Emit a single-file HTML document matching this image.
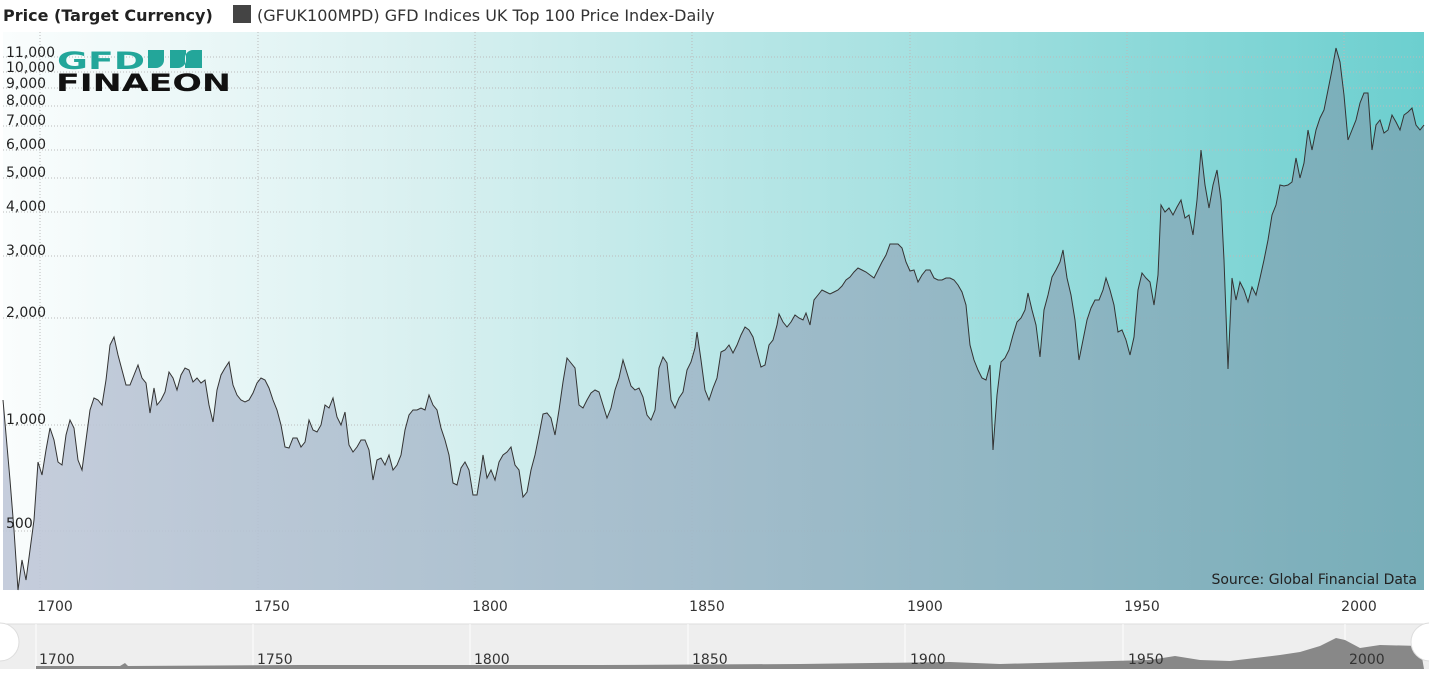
<!DOCTYPE html>
<html><head><style>
body{margin:0;background:#fff;width:1429px;height:669px;overflow:hidden;font-family:"Liberation Sans","DejaVu Sans",sans-serif}
</style></head><body>
<svg width="1429" height="669" xmlns="http://www.w3.org/2000/svg" font-family="'DejaVu Sans','Liberation Sans',sans-serif">
<defs>
<linearGradient id="bg" x1="0" x2="1" y1="0" y2="0">
<stop offset="0" stop-color="#fafdfd"/><stop offset="0.3" stop-color="#d8f0f0"/><stop offset="0.7" stop-color="#9ddede"/><stop offset="1" stop-color="#6ccfcf"/></linearGradient>
<linearGradient id="fl" x1="0" x2="1" y1="0" y2="0">
<stop offset="0" stop-color="#c0c8d8"/><stop offset="0.5" stop-color="#a0b8c8"/><stop offset="1" stop-color="#78aab6"/></linearGradient>
</defs>
<text x="3" y="21" font-size="16" font-weight="bold" fill="#222">Price (Target Currency)</text>
<rect x="233" y="5" width="18" height="18" fill="#444"/>
<text x="257" y="21" font-size="16" fill="#333">(GFUK100MPD) GFD Indices UK Top 100 Price Index-Daily</text>
<rect x="3" y="32" width="1421" height="558" fill="url(#bg)"/>
<g stroke="#bbb" stroke-dasharray="1,2" stroke-width="1">
<line x1="3" x2="1424" y1="57" y2="57"/><line x1="3" x2="1424" y1="72" y2="72"/><line x1="3" x2="1424" y1="88" y2="88"/><line x1="3" x2="1424" y1="106" y2="106"/><line x1="3" x2="1424" y1="126" y2="126"/><line x1="3" x2="1424" y1="150" y2="150"/><line x1="3" x2="1424" y1="178" y2="178"/><line x1="3" x2="1424" y1="212" y2="212"/><line x1="3" x2="1424" y1="256" y2="256"/><line x1="3" x2="1424" y1="318" y2="318"/><line x1="3" x2="1424" y1="425" y2="425"/><line x1="3" x2="1424" y1="531" y2="531"/>
<line x1="40" x2="40" y1="32" y2="590"/><line x1="258" x2="258" y1="32" y2="590"/><line x1="475" x2="475" y1="32" y2="590"/><line x1="692" x2="692" y1="32" y2="590"/><line x1="910" x2="910" y1="32" y2="590"/><line x1="1127" x2="1127" y1="32" y2="590"/><line x1="1344" x2="1344" y1="32" y2="590"/>
</g>
<polyline id="pl" fill="url(#fl)" fill-opacity="0.9" stroke="none" points="3,590 3,400 10,480 14,530 18,590 22,560 26,580 30,550 34,520 38,462 42,475 46,450 50,428 54,440 58,462 62,465 66,435 70,420 74,428 78,460 82,470 86,440 90,410 94,398 98,400 102,405 106,380 110,345 114,337 118,355 122,370 126,385 130,385 134,375 138,365 142,378 146,383 150,413 154,388 157,405 161,400 165,392 169,372 173,378 177,390 181,375 185,368 189,370 193,382 197,378 201,383 205,380 209,405 213,422 217,390 221,375 225,368 229,362 233,385 237,395 241,400 245,402 249,400 253,393 257,383 261,378 265,380 269,388 273,400 277,410 281,425 285,447 289,448 293,438 297,438 301,447 305,442 309,420 313,430 317,432 321,425 325,405 329,408 333,398 337,417 341,425 345,412 349,445 353,452 357,447 361,440 365,440 369,450 373,480 377,460 381,458 385,465 389,455 393,470 397,465 401,455 405,430 409,415 413,410 417,410 421,408 425,410 429,395 433,405 437,410 441,428 445,440 449,455 453,483 457,485 461,468 465,462 469,470 473,495 477,495 481,470 483,455 487,478 491,470 495,480 499,462 503,455 507,452 511,447 515,465 519,470 523,497 527,492 531,470 535,455 539,435 543,414 547,413 551,418 555,435 559,410 563,382 567,358 571,363 575,368 579,405 583,408 587,400 591,393 595,390 599,392 603,405 607,418 611,408 615,390 619,378 623,360 627,373 631,386 635,390 639,388 643,397 647,415 651,420 655,410 659,368 663,357 667,363 671,400 675,408 679,398 683,392 687,370 691,362 695,348 697,332 701,360 705,390 709,400 713,388 717,378 721,352 725,350 729,345 733,353 737,345 741,335 745,327 749,330 753,337 757,352 761,367 765,365 769,345 773,340 777,325 779,314 783,322 787,327 791,322 795,315 799,318 803,320 806,313 810,325 814,300 818,295 822,290 826,292 830,294 834,292 838,290 842,286 846,280 850,277 854,272 858,268 862,270 866,272 870,275 874,278 878,270 882,262 886,255 890,244 894,244 898,244 902,248 906,262 910,271 914,270 918,282 922,275 926,270 930,270 934,278 938,280 942,280 946,278 950,278 954,280 958,285 962,292 966,305 970,345 974,360 978,370 982,378 986,380 990,365 993,450 997,395 1001,362 1005,358 1009,350 1013,335 1017,322 1021,318 1025,310 1028,293 1032,310 1036,325 1040,357 1044,310 1048,295 1052,277 1056,270 1060,262 1063,250 1067,278 1071,295 1075,320 1079,360 1083,340 1087,320 1091,308 1095,300 1099,300 1103,290 1106,278 1110,290 1114,305 1118,332 1122,330 1126,340 1130,355 1134,337 1138,290 1142,273 1146,278 1150,282 1154,305 1158,275 1161,205 1165,212 1169,208 1173,215 1177,207 1181,200 1185,218 1189,215 1193,235 1197,200 1201,150 1205,185 1209,208 1213,185 1217,170 1221,200 1224,260 1228,369 1232,278 1236,300 1240,282 1244,290 1248,302 1252,287 1256,295 1260,278 1264,260 1268,240 1272,215 1276,205 1280,185 1284,186 1288,185 1292,182 1296,158 1300,178 1304,163 1308,130 1312,150 1316,130 1320,118 1324,110 1328,90 1332,70 1336,48 1340,62 1344,95 1348,140 1352,130 1356,120 1360,103 1364,93 1368,93 1372,150 1376,125 1380,120 1384,133 1388,130 1392,115 1396,122 1400,130 1404,115 1408,112 1412,108 1416,125 1420,130 1424,125 1424,590"/>
<polyline fill="none" stroke="#333" stroke-width="1" points="3,400 10,480 14,530 18,590 22,560 26,580 30,550 34,520 38,462 42,475 46,450 50,428 54,440 58,462 62,465 66,435 70,420 74,428 78,460 82,470 86,440 90,410 94,398 98,400 102,405 106,380 110,345 114,337 118,355 122,370 126,385 130,385 134,375 138,365 142,378 146,383 150,413 154,388 157,405 161,400 165,392 169,372 173,378 177,390 181,375 185,368 189,370 193,382 197,378 201,383 205,380 209,405 213,422 217,390 221,375 225,368 229,362 233,385 237,395 241,400 245,402 249,400 253,393 257,383 261,378 265,380 269,388 273,400 277,410 281,425 285,447 289,448 293,438 297,438 301,447 305,442 309,420 313,430 317,432 321,425 325,405 329,408 333,398 337,417 341,425 345,412 349,445 353,452 357,447 361,440 365,440 369,450 373,480 377,460 381,458 385,465 389,455 393,470 397,465 401,455 405,430 409,415 413,410 417,410 421,408 425,410 429,395 433,405 437,410 441,428 445,440 449,455 453,483 457,485 461,468 465,462 469,470 473,495 477,495 481,470 483,455 487,478 491,470 495,480 499,462 503,455 507,452 511,447 515,465 519,470 523,497 527,492 531,470 535,455 539,435 543,414 547,413 551,418 555,435 559,410 563,382 567,358 571,363 575,368 579,405 583,408 587,400 591,393 595,390 599,392 603,405 607,418 611,408 615,390 619,378 623,360 627,373 631,386 635,390 639,388 643,397 647,415 651,420 655,410 659,368 663,357 667,363 671,400 675,408 679,398 683,392 687,370 691,362 695,348 697,332 701,360 705,390 709,400 713,388 717,378 721,352 725,350 729,345 733,353 737,345 741,335 745,327 749,330 753,337 757,352 761,367 765,365 769,345 773,340 777,325 779,314 783,322 787,327 791,322 795,315 799,318 803,320 806,313 810,325 814,300 818,295 822,290 826,292 830,294 834,292 838,290 842,286 846,280 850,277 854,272 858,268 862,270 866,272 870,275 874,278 878,270 882,262 886,255 890,244 894,244 898,244 902,248 906,262 910,271 914,270 918,282 922,275 926,270 930,270 934,278 938,280 942,280 946,278 950,278 954,280 958,285 962,292 966,305 970,345 974,360 978,370 982,378 986,380 990,365 993,450 997,395 1001,362 1005,358 1009,350 1013,335 1017,322 1021,318 1025,310 1028,293 1032,310 1036,325 1040,357 1044,310 1048,295 1052,277 1056,270 1060,262 1063,250 1067,278 1071,295 1075,320 1079,360 1083,340 1087,320 1091,308 1095,300 1099,300 1103,290 1106,278 1110,290 1114,305 1118,332 1122,330 1126,340 1130,355 1134,337 1138,290 1142,273 1146,278 1150,282 1154,305 1158,275 1161,205 1165,212 1169,208 1173,215 1177,207 1181,200 1185,218 1189,215 1193,235 1197,200 1201,150 1205,185 1209,208 1213,185 1217,170 1221,200 1224,260 1228,369 1232,278 1236,300 1240,282 1244,290 1248,302 1252,287 1256,295 1260,278 1264,260 1268,240 1272,215 1276,205 1280,185 1284,186 1288,185 1292,182 1296,158 1300,178 1304,163 1308,130 1312,150 1316,130 1320,118 1324,110 1328,90 1332,70 1336,48 1340,62 1344,95 1348,140 1352,130 1356,120 1360,103 1364,93 1368,93 1372,150 1376,125 1380,120 1384,133 1388,130 1392,115 1396,122 1400,130 1404,115 1408,112 1412,108 1416,125 1420,130 1424,125"/>
<g font-size="14" fill="#222">
<text x="6" y="57">11,000</text><text x="6" y="72">10,000</text><text x="6" y="88">9,000</text><text x="6" y="105">8,000</text><text x="6" y="125">7,000</text><text x="6" y="149">6,000</text><text x="6" y="177">5,000</text><text x="6" y="211">4,000</text><text x="6" y="255">3,000</text><text x="6" y="317">2,000</text><text x="6" y="424">1,000</text><text x="6" y="528">500</text>
</g>
<g>
<text x="57" y="69" font-size="24" font-weight="bold" fill="#23a69a" textLength="88" lengthAdjust="spacingAndGlyphs">GFD</text>
<path d="M148 50 h16 v10 a8 8 0 0 1 -8 8 h-8z M170 50 h16 v10 a8 8 0 0 1 -8 8 h-8z M202 50 h-9 a8 8 0 0 0 -8 8 v10 h17z" fill="#23a69a"/>
<text x="56" y="91" font-size="24" font-weight="bold" fill="#111" textLength="175" lengthAdjust="spacingAndGlyphs">FINAEON</text>
</g>
<text x="1417" y="584" font-size="14" fill="#222" text-anchor="end">Source: Global Financial Data</text>
<g font-size="14" fill="#333" text-anchor="middle">
<text x="55" y="611">1700</text><text x="272" y="611">1750</text><text x="490" y="611">1800</text><text x="707" y="611">1850</text><text x="925" y="611">1900</text><text x="1142" y="611">1950</text><text x="1359" y="611">2000</text>
</g>
<rect x="0" y="624" width="1429" height="45" fill="#eee"/>
<line x1="0" x2="1429" y1="624" y2="624" stroke="#ddd"/>
<g stroke="#fff"><line x1="36" x2="36" y1="624" y2="669"/><line x1="253" x2="253" y1="624" y2="669"/><line x1="470" x2="470" y1="624" y2="669"/><line x1="688" x2="688" y1="624" y2="669"/><line x1="905" x2="905" y1="624" y2="669"/><line x1="1123" x2="1123" y1="624" y2="669"/><line x1="1345" x2="1345" y1="624" y2="669"/></g>
<polygon fill="#888" points="36,669 36,666 120,666 125,663 128,666 300,665 600,665 800,664 950,662 1000,664 1150,660 1175,656 1200,660 1230,661 1280,655 1300,652 1320,646 1336,638 1345,640 1360,648 1380,645 1420,646 1424,669"/>
<g font-size="14" fill="#333">
<text x="39" y="664">1700</text><text x="257" y="664">1750</text><text x="474" y="664">1800</text><text x="692" y="664">1850</text><text x="910" y="664">1900</text><text x="1128" y="664">1950</text><text x="1349" y="664">2000</text>
</g>
<circle cx="0" cy="642" r="19" fill="#fff" stroke="#ddd"/>
<circle cx="1430" cy="642" r="19" fill="#fff" stroke="#ddd"/>
</svg>
</body></html>
